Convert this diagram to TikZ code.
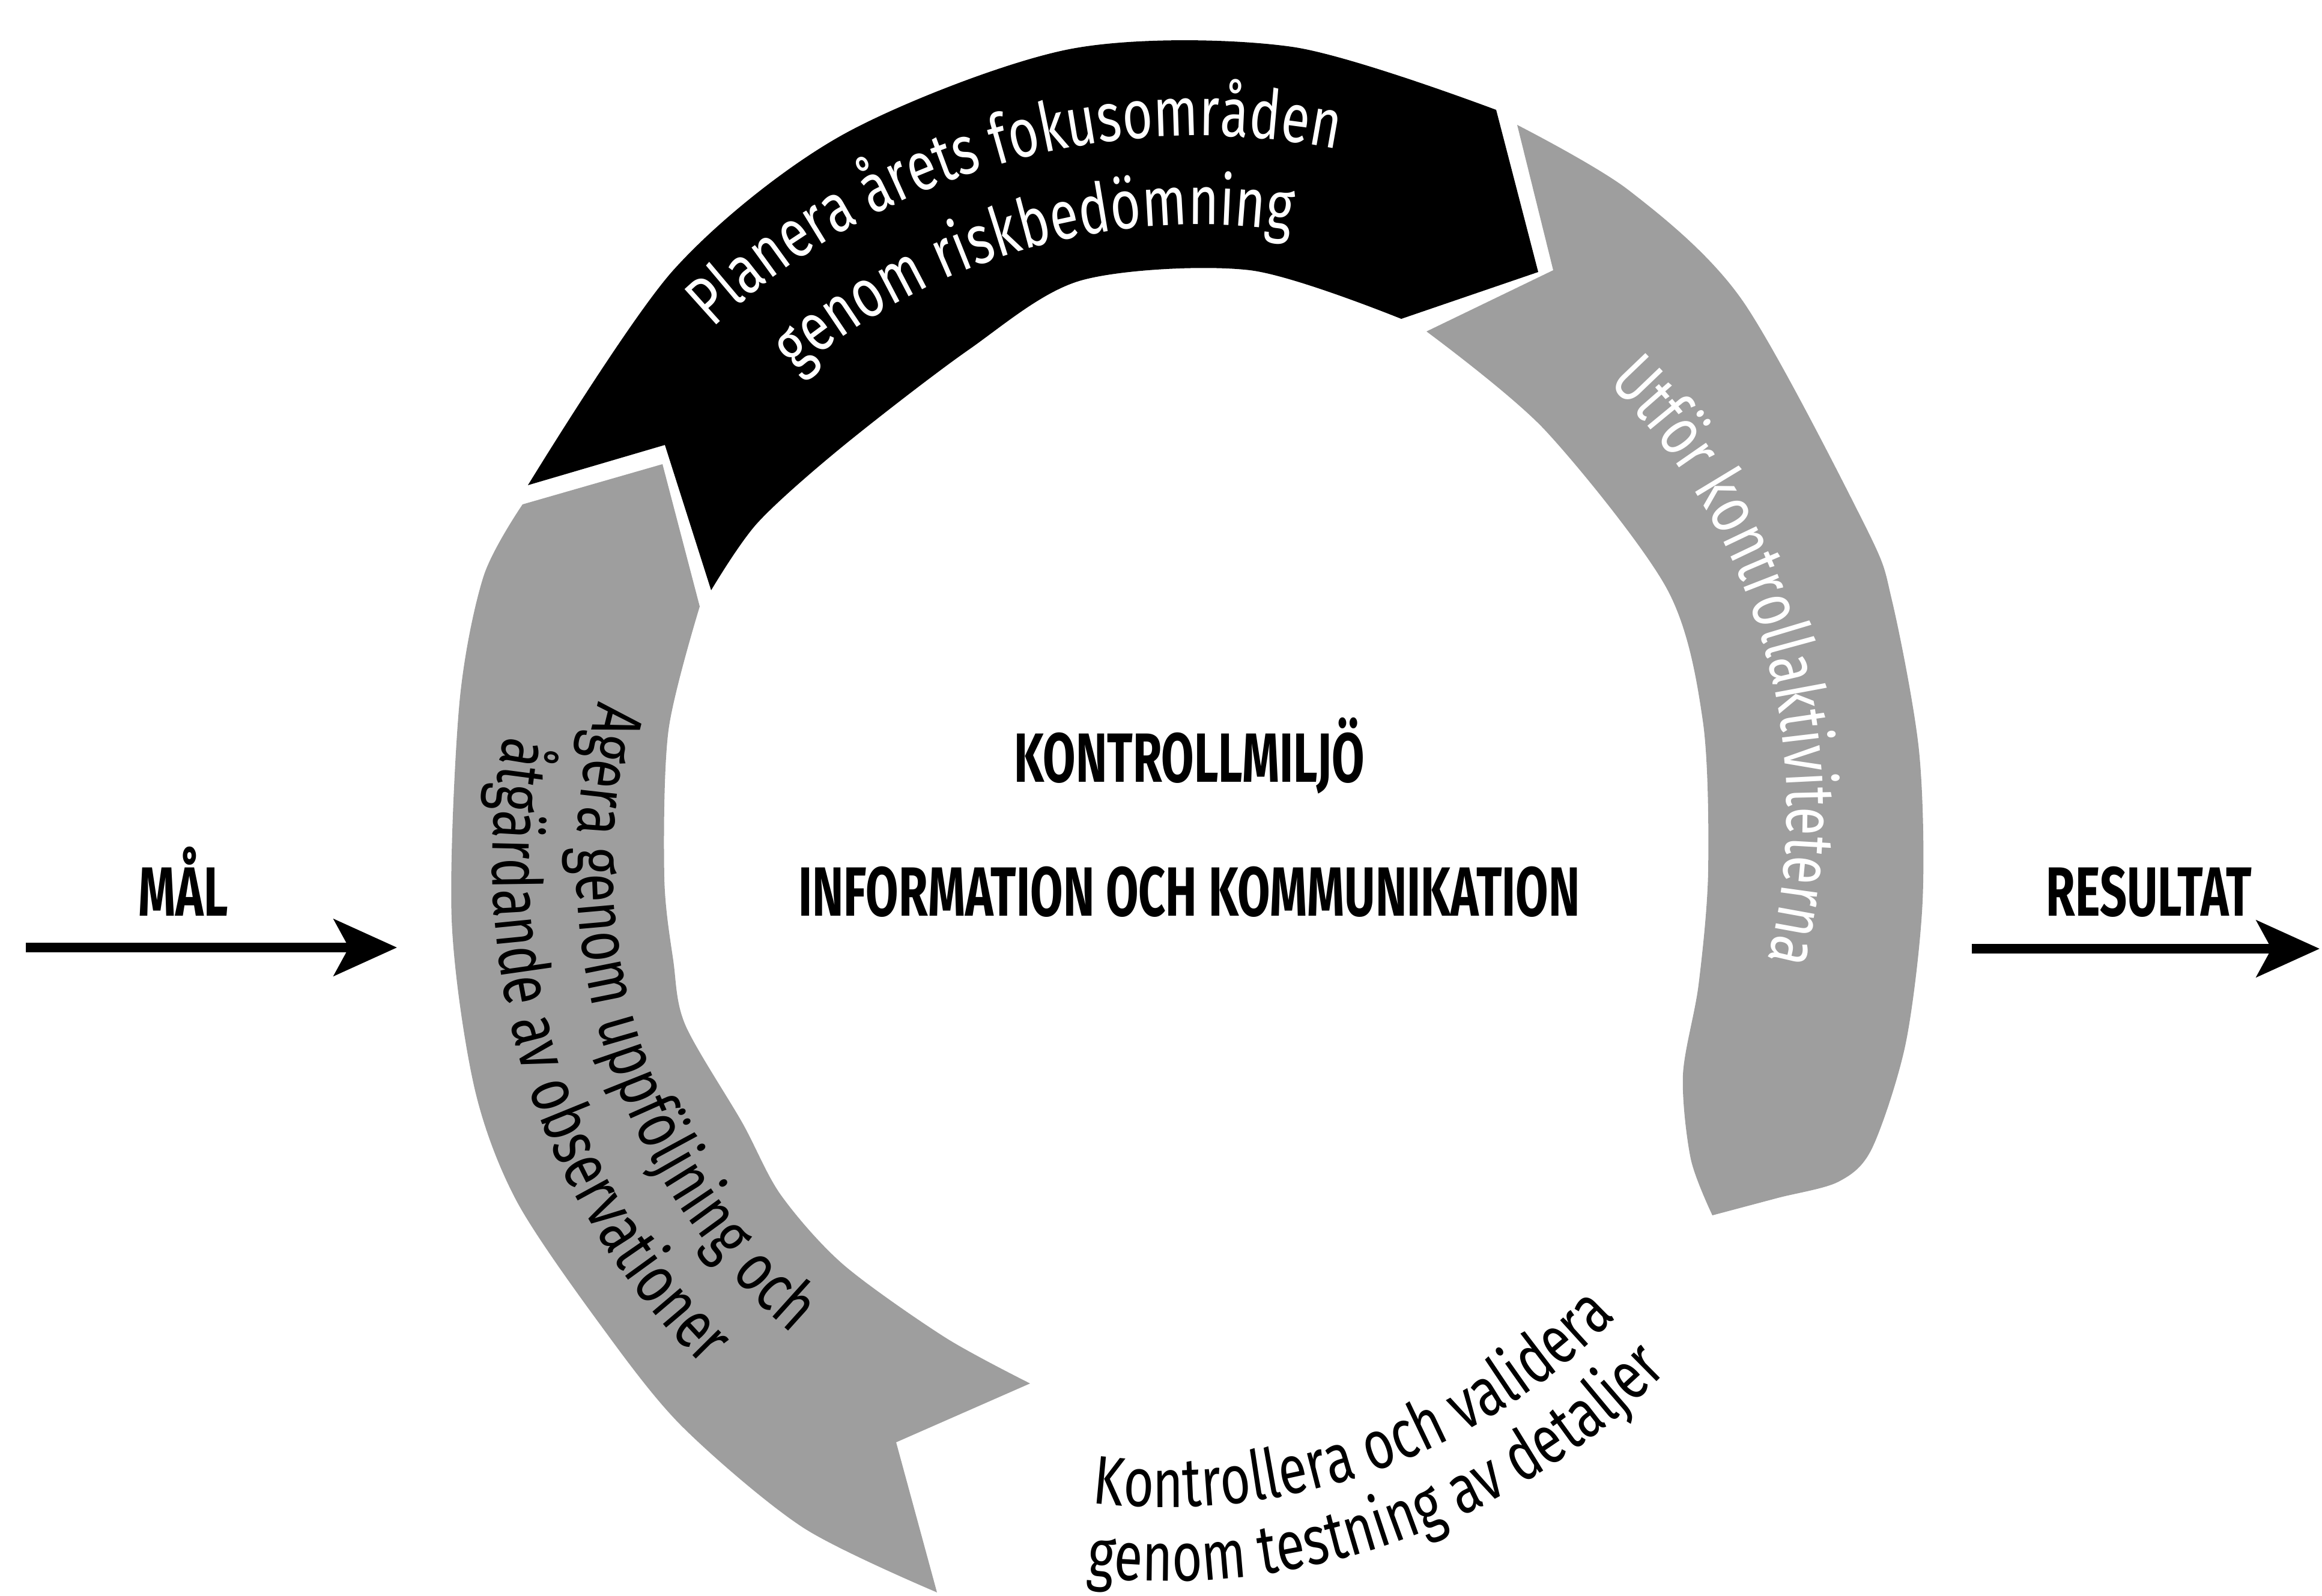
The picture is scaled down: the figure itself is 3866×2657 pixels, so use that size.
\documentclass[tikz,border=0pt]{standalone}
\usepackage{fontspec}
\setmainfont{Fira Sans}
\newfontfamily\rubrikfont{Fira Sans}[FakeStretch=0.68]
\newfontfamily\bagfont{Fira Sans}[FakeStretch=0.76]
\newcommand\bagtext{\bagfont\fontsize{32.6}{39}\selectfont}
\usetikzlibrary{arrows.meta,decorations.text}
\definecolor{pilgra}{gray}{0.62}

\begin{document}
\begin{tikzpicture}[x=0.01cm,y=-0.01cm]
    \useasboundingbox (0,0) rectangle (3866,2657);
    \tikzstyle{rubrik}=[font=\rubrikfont\bfseries\fontsize{33}{40}\selectfont,inner sep=0pt,anchor=base]
    \tikzstyle{flode}=[line width=4.3pt,-{Stealth[length=10.5mm,width=9.4mm,inset=2.5mm]}]
    \tikzstyle{bage}=[decorate,decoration={text along path,text align=center}]

    %%%%%%%%%%%%%%%%%%%%%%%%%%%%%%%%%%%%%% Svart pil (planera)
    \fill[black] (879,808)--(1107,741)--(1184,983)
        -- plot[smooth] coordinates {(1184,983) (1261,871) (1401,745) (1612,583) (1800,467) (2081,450) (2333,531)}
        --(2561,453)--(2491,183)
        -- plot[smooth] coordinates {(2491,183) (2151,78) (1780,82) (1402,225) (1121,450) (879,808)}
        --cycle;

    %%%%%%%%%%%%%%%%%%%%%%%%%%%%%%%%%%%%%% Grå pil höger (utför)
    \fill[pilgra] (2526,208)--(2586,450)--(2375,552)
        -- plot[smooth] coordinates {(2375,552) (2572,716) (2775,980) (2835,1200) (2844,1450) (2828,1640) (2802,1790) (2815,1930) (2851,2024)}
        -- plot[smooth] coordinates {(2851,2024) (2960,1995) (3061,1968) (3117,1912) (3173,1737) (3201,1500) (3195,1250) (3150,1000) (3106,877) (2900,499) (2712,317) (2526,208)}
        --cycle;

    %%%%%%%%%%%%%%%%%%%%%%%%%%%%%%%%%%%%%% Grå pil vänster (agera)
    \fill[pilgra] (870,840)--(1103,773)--(1165,1010)
        -- plot[smooth] coordinates {(1165,1010) (1113,1216) (1106,1461) (1121,1600) (1141,1707) (1236,1870) (1300,1990) (1404,2106) (1573,2227) (1715,2304)}
        --(1492,2402)--(1560,2652)
        -- plot[smooth] coordinates {(1560,2652) (1337,2544) (1135,2375) (1000,2207) (860,2000) (790,1812) (752,1531) (765,1170) (805,960) (870,840)}
        --cycle;

    %%%%%%%%%%%%%%%%%%%%%%%%%%%%%%%%%%%%%% Texter längs bågarna
    \path[bage,decoration={text color=white,text={|\bagtext|Planera årets fokusområden}}]
        ([shift={(-140:1185)}]1997,1411) arc[start angle=-140,end angle=-72,radius=1185];
    \path[bage,decoration={text color=white,text={|\bagtext|genom riskbedömning}}]
        ([shift={(-140:1037)}]1997,1411) arc[start angle=-140,end angle=-72,radius=1037];

    \path[bage,decoration={text color=white,text={|\bagtext|Utför kontrollaktiviteterna}}]
        ([shift={(-50:1000)}]1975,1350) arc[start angle=-50,end angle=19,radius=1000];

    \path[bage,decoration={text color=black,text={|\bagtext|Kontrollera och validera}}]
        ([shift={(105:1047)}]1941,1463) arc[start angle=105,end angle=36,radius=1047];
    \path[bage,decoration={text color=black,text={|\bagtext|genom testning av detaljer}}]
        ([shift={(105:1170)}]1941,1463) arc[start angle=105,end angle=36,radius=1170];

    \path[bage,decoration={text color=black,text={|\bagtext|Agera genom uppföljning och}}]
        ([shift={(200:1030)}]1990,1440) arc[start angle=200,end angle=126,radius=1030];
    \path[bage,decoration={text color=black,text={|\bagtext|åtgärdande av observationer}}]
        ([shift={(199.5:1170)}]1990,1440) arc[start angle=199.5,end angle=125.5,radius=1170];

    %%%%%%%%%%%%%%%%%%%%%%%%%%%%%%%%%%%%%% Mitten
    \node[rubrik] (kontroll) at (1980,1302) {KONTROLLMILJÖ};
    \node[rubrik] (info) at (1980,1525) {INFORMATION OCH KOMMUNIKATION};

    %%%%%%%%%%%%%%%%%%%%%%%%%%%%%%%%%%%%%% In och ut
    \node[rubrik] (mal) at (305,1525) {MÅL};
    \coordinate (malfran) at (43,1578);
    \coordinate (maltill) at (661,1578);
    \draw[flode] (malfran)--(maltill);

    \node[rubrik] (resultat) at (3578,1525) {RESULTAT};
    \coordinate (resfran) at (3283,1580);
    \coordinate (restill) at (3862,1580);
    \draw[flode] (resfran)--(restill);
\end{tikzpicture}
\end{document}
